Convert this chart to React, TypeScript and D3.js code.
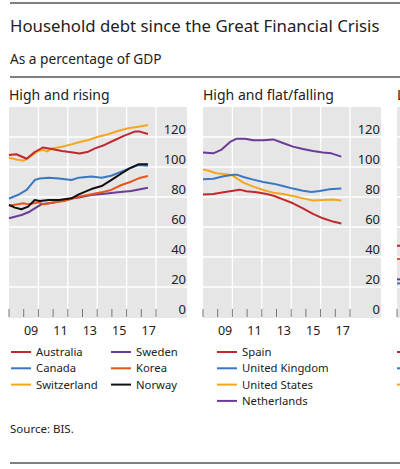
import React from 'react';
import * as d3 from 'd3';

type Pt = [number, number];

// Panel 1: High and rising
const australia: Pt[] = [[2008.0,108],[2008.5,108.5],[2009.2,105.5],[2009.75,110],[2010.3,113],[2010.9,112],[2011.6,110.7],[2012.25,109.8],[2012.8,109],[2013.4,110.2],[2013.85,112.4],[2014.5,114.7],[2015.2,118],[2015.85,120.9],[2016.55,123.6],[2016.9,123.6],[2017.45,122]];
const canada: Pt[] = [[2008.0,79],[2008.6,81.3],[2009.2,84.7],[2009.75,91.3],[2010.1,92.4],[2010.7,92.9],[2011.4,92.4],[2012.25,91.3],[2012.75,92.9],[2013.6,93.6],[2014.3,92.9],[2014.95,94.2],[2015.65,96.9],[2016.2,99.1],[2016.8,101.3],[2017.45,100.9]];
const switzerland: Pt[] = [[2008.0,106.2],[2008.5,105],[2009.0,104.2],[2009.3,105.8],[2010.0,110.7],[2010.3,111.4],[2010.6,110.4],[2010.9,112.4],[2011.6,113.5],[2012.25,115.1],[2012.75,116.5],[2013.4,118],[2014.05,120.2],[2014.75,121.8],[2015.4,124],[2016.1,125.8],[2016.8,126.9],[2017.45,128]];
const sweden: Pt[] = [[2008.0,65.8],[2008.85,68],[2009.4,70.2],[2009.75,72.4],[2010.2,75.1],[2011.1,76.4],[2012.25,79.1],[2012.75,79.6],[2013.6,81.3],[2014.5,82.2],[2015.4,83.1],[2016.3,84],[2017.45,86.2]];
const korea: Pt[] = [[2008.0,74.2],[2008.6,75.1],[2009.0,75.8],[2009.3,75.1],[2010.0,76.4],[2010.4,75.1],[2011.0,76.4],[2011.75,77.3],[2012.75,80.2],[2013.6,81.8],[2014.3,83.1],[2014.95,84.7],[2015.65,88],[2016.3,90.2],[2016.95,92.9],[2017.45,94]];
const norway: Pt[] = [[2008.0,74.7],[2008.4,72.9],[2008.85,71.8],[2009.3,73.6],[2009.75,78],[2010.1,77.3],[2010.7,78],[2011.4,78],[2012.25,79.1],[2012.75,81.8],[2013.6,85.3],[2014.3,87.3],[2014.95,91.3],[2015.65,95.8],[2016.2,99.1],[2016.8,101.8],[2017.45,101.8]];

// Panel 2: High and flat/falling
const spain: Pt[] = [[2008.0,81.6],[2008.7,82],[2009.4,83.1],[2010.05,84.2],[2010.5,84.9],[2010.95,83.8],[2011.65,83.1],[2012.33,82],[2012.8,80.8],[2013.44,78.4],[2014.12,75.8],[2014.8,72.4],[2015.48,68.7],[2016.16,65.8],[2016.84,63.6],[2017.41,62.4]];
const unitedKingdom: Pt[] = [[2008.0,91.8],[2008.7,92.2],[2009.4,93.8],[2010.05,94.9],[2010.3,94.9],[2010.75,93.3],[2011.42,91.6],[2012.1,90],[2012.78,88.9],[2013.44,87.3],[2014.12,85.6],[2014.8,84.2],[2015.37,83.3],[2015.93,84],[2016.61,85.1],[2017.41,85.6]];
const unitedStates: Pt[] = [[2008.0,98.4],[2008.45,97.3],[2008.9,95.8],[2009.4,95.3],[2009.95,94.7],[2010.3,92.4],[2010.75,89.6],[2011.42,86.9],[2012.1,84.7],[2012.78,82.9],[2013.44,82],[2014.12,80.7],[2014.8,79.1],[2015.48,77.6],[2016.16,78],[2016.84,78.4],[2017.41,77.6]];
const netherlands: Pt[] = [[2008.0,109.6],[2008.7,109.1],[2009.27,111.6],[2009.84,116.7],[2010.29,118.9],[2010.86,118.9],[2011.42,117.8],[2012.1,117.8],[2012.78,118.4],[2013.44,116],[2014.12,113.6],[2014.8,112],[2015.48,110.7],[2016.16,109.6],[2016.73,109.1],[2017.41,106.9]];

// Panel 3: Low and rising (only its left edge is visible)
const lowA: Pt[] = [[2008.0,47.5],[2008.25,47.5]];
const lowB: Pt[] = [[2008.0,38.7],[2008.25,38.7]];
const lowC: Pt[] = [[2008.0,25.1],[2008.25,25.1]];
const lowD: Pt[] = [[2008.0,22.4],[2008.25,22.4]];

const yTicks = [0, 20, 40, 60, 80, 100, 120];
const yGrid = [20, 40, 60, 80, 100, 120];
const xGrid = [2010, 2012, 2014, 2016, 2018];
const xTickYears = [2008, 2009, 2010, 2011, 2012, 2013, 2014, 2015, 2016, 2017, 2018];
const xLabelYears = [2009, 2011, 2013, 2015, 2017];
const xLabelText = ['09', '11', '13', '15', '17'];

const RED = '#c0282e';
const BLUE = '#3b77c2';
const YELLOW = '#f4a71d';
const PURPLE = '#6a3c97';
const ORANGE = '#e6561b';
const BLACK = '#111111';

interface Series { name: string; color: string; data: Pt[]; }
interface Panel {
  title: string; left: number; series: Series[];
  legendCols: { x: number; items: Series[] }[];
  showAxisLabels: boolean;
}

const p1Series: Series[] = [
  { name: 'Sweden', color: PURPLE, data: sweden },
  { name: 'Korea', color: ORANGE, data: korea },
  { name: 'Canada', color: BLUE, data: canada },
  { name: 'Switzerland', color: YELLOW, data: switzerland },
  { name: 'Australia', color: RED, data: australia },
  { name: 'Norway', color: BLACK, data: norway },
];
const byName = (arr: Series[], n: string) => arr.find(s => s.name === n)!;
const p2Series: Series[] = [
  { name: 'Netherlands', color: PURPLE, data: netherlands },
  { name: 'United States', color: YELLOW, data: unitedStates },
  { name: 'United Kingdom', color: BLUE, data: unitedKingdom },
  { name: 'Spain', color: RED, data: spain },
];
const p3Series: Series[] = [
  { name: '', color: RED, data: lowA },
  { name: '', color: ORANGE, data: lowB },
  { name: '', color: PURPLE, data: lowC },
  { name: '', color: BLUE, data: lowD },
];

const panels: Panel[] = [
  {
    title: 'High and rising', left: 9, series: p1Series, showAxisLabels: true,
    legendCols: [
      { x: 11, items: ['Australia', 'Canada', 'Switzerland'].map(n => byName(p1Series, n)) },
      { x: 111, items: ['Sweden', 'Korea', 'Norway'].map(n => byName(p1Series, n)) },
    ],
  },
  {
    title: 'High and flat/falling', left: 203, series: p2Series, showAxisLabels: true,
    legendCols: [
      { x: 217, items: ['Spain', 'United Kingdom', 'United States', 'Netherlands'].map(n => byName(p2Series, n)) },
    ],
  },
  {
    title: 'L', left: 397, series: p3Series, showAxisLabels: false,
    legendCols: [
      { x: 397, items: [p3Series[0], p3Series[3], { name: '', color: YELLOW, data: [] }] },
    ],
  },
];

const FONT = "'Noto Sans', 'Open Sans', sans-serif";
const TEXT = '#222';

const PLOT_TOP = 107;
const PLOT_BOTTOM = 318;
const GRAY_W = 178;
const YEAR_W = 14.7;

const y = d3.scaleLinear().domain([0, 140]).range([317, 107]);

function PanelView({ p }: { p: Panel }) {
  const x = d3.scaleLinear().domain([2008, 2018]).range([p.left, p.left + YEAR_W * 10]);
  const line = d3.line<Pt>().x(d => x(d[0])).y(d => y(d[1]));
  return (
    <g>
      <text x={p.left} y={100} fontSize={14} fill={TEXT} fontFamily={FONT}>{p.title}</text>
      <rect x={p.left} y={PLOT_TOP} width={GRAY_W} height={PLOT_BOTTOM - PLOT_TOP} fill="#e6e6e6" />
      {yGrid.map(v => (
        <line key={'h' + v} x1={p.left} x2={p.left + GRAY_W} y1={y(v)} y2={y(v)} stroke="#fff" strokeWidth={1.3} />
      ))}
      {xGrid.map(t => (
        <line key={'v' + t} x1={x(t)} x2={x(t)} y1={PLOT_TOP} y2={PLOT_BOTTOM} stroke="#fff" strokeWidth={1.3} />
      ))}
      {xTickYears.map(t => (
        <line key={'t' + t} x1={x(t)} x2={x(t)} y1={309} y2={317} stroke="#777" strokeWidth={1} />
      ))}
      {p.showAxisLabels && yTicks.map(v => (
        <text key={'yl' + v} x={p.left + 177} y={y(v) - 3} textAnchor="end" fontSize={13} fill={TEXT} fontFamily={FONT}>{v}</text>
      ))}
      {p.showAxisLabels && xLabelYears.map((t, i) => (
        <text key={'xl' + t} x={x(t + 0.5)} y={335} textAnchor="middle" fontSize={12.5} fill={TEXT} fontFamily={FONT}>{xLabelText[i]}</text>
      ))}
      {p.series.map(s => (
        <path key={s.name + s.color} d={line(s.data) || ''} fill="none" stroke={s.color} strokeWidth={2} strokeLinejoin="round" />
      ))}
      {p.legendCols.map((c, ci) => c.items.map((s, i) => (
        <g key={'lg' + ci + '-' + i}>
          <line x1={c.x} x2={c.x + 20} y1={352 + i * 16.3} y2={352 + i * 16.3} stroke={s.color} strokeWidth={2} />
          {s.name && <text x={c.x + 25} y={356} fontSize={11.3} fill={TEXT} fontFamily={FONT} dy={i * 16.3}>{s.name}</text>}
        </g>
      )))}
    </g>
  );
}

export default function App() {
  return (
    <svg width={400} height={469} viewBox="0 0 400 469" style={{ position: 'absolute', left: 0, top: 0, background: '#fff' }}>
      <line x1={10} x2={400} y1={3} y2={3} stroke="#555" strokeWidth={1.3} />
      <text x={10} y={31.5} fontSize={16.8} fill={TEXT} fontFamily={FONT}>Household debt since the Great Financial Crisis</text>
      <text x={10} y={63.5} fontSize={13.7} fill={TEXT} fontFamily={FONT}>As a percentage of GDP</text>
      <line x1={10} x2={400} y1={77} y2={77} stroke="#555" strokeWidth={1.3} />
      {panels.map(p => <PanelView key={p.title} p={p} />)}
      <text x={10} y={433} fontSize={11.5} fill={TEXT} fontFamily={FONT}>Source: BIS.</text>
      <line x1={10} x2={400} y1={463} y2={463} stroke="#555" strokeWidth={1.3} />
    </svg>
  );
}
